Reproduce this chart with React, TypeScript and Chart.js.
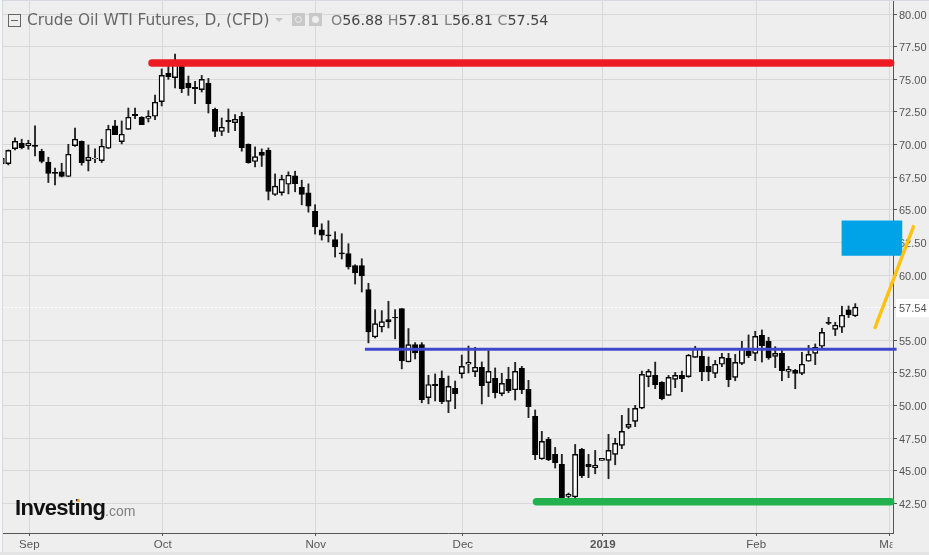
import React, { useEffect, useRef } from "react";
import { Chart, registerables } from "chart.js";

Chart.register(...registerables);

// Price candles, one per trading day, first entry is the bar clipped at the left edge
const opens = [68.52,68.54,69.69,70.10,69.92,69.95,69.49,68.65,67.88,67.91,67.55,69.92,70.25,68.77,68.90,68.77,69.72,71.43,70.23,71.17,72.32,72.09,72.01,72.17,73.29,75.46,75.13,76.04,74.69,74.39,74.21,74.69,72.70,71.00,71.86,71.68,72.17,70.02,68.70,69.41,69.56,66.17,66.32,66.96,67.60,66.73,66.30,64.88,63.47,63.09,62.71,61.71,61.64,60.72,60.72,58.88,55.26,56.02,56.58,56.76,57.43,53.34,54.67,54.67,50.61,51.62,52.08,50.32,51.32,52.44,53.16,52.60,52.93,51.75,52.08,50.91,52.01,51.21,52.85,51.24,49.17,45.92,47.41,46.26,45.49,43.04,43.00,46.64,45.49,45.23,45.80,45.80,46.26,46.95,48.33,48.79,49.80,52.21,52.31,51.77,50.78,52.00,52.31,52.21,53.69,53.77,53.00,52.47,53.16,53.62,52.16,53.23,54.20,54.00,55.38,54.92,53.77,54.00,52.62,52.70,52.46,53.39,54.00,54.54,56.38,55.84,56.00,57.33,56.88];
const highs = [69.08,69.59,70.51,70.41,70.33,71.43,69.64,69.03,68.19,68.57,70.02,71.27,70.28,69.97,69.67,70.41,71.48,71.86,71.81,72.80,72.80,72.14,72.60,73.80,75.79,76.07,76.94,76.17,75.25,74.85,75.30,75.07,72.80,72.04,72.73,72.29,72.47,70.05,69.82,69.67,69.74,67.75,67.65,67.91,67.96,67.27,66.99,65.39,63.93,64.16,63.32,63.17,62.40,60.79,61.25,59.37,57.35,57.27,57.99,57.35,57.43,55.90,54.82,54.82,52.32,52.42,52.65,52.26,51.88,53.87,54.56,54.46,53.34,54.21,52.88,52.47,52.93,53.31,53.00,51.93,49.66,48.02,47.56,46.79,46.26,43.29,47.02,46.72,46.26,46.56,45.95,47.79,47.48,49.25,49.78,50.01,52.64,52.77,53.33,51.83,52.31,52.54,52.64,53.92,54.54,54.38,53.72,53.46,54.00,54.00,53.92,54.92,55.41,55.69,55.79,55.23,54.51,54.38,53.00,52.77,54.08,54.61,54.72,55.92,56.76,56.38,57.61,57.63,57.81];
const lows = [68.44,68.44,69.59,69.67,69.64,69.13,68.60,67.09,66.91,67.52,67.55,69.85,68.42,67.98,68.62,68.62,69.69,70.76,70.05,71.17,71.99,71.53,71.73,71.91,72.96,75.00,74.34,73.98,73.77,73.14,74.03,72.42,70.61,70.69,70.92,71.07,69.49,68.57,68.29,68.32,65.76,66.10,66.12,66.22,66.38,65.38,64.82,63.14,62.68,62.53,61.38,61.23,60.46,59.31,58.70,54.80,55.18,55.64,55.95,55.11,52.81,53.34,53.57,50.21,50.13,50.35,50.14,49.45,49.76,52.11,52.49,52.21,50.12,50.68,50.58,50.75,50.98,50.42,50.91,49.07,45.85,45.87,45.77,45.21,42.60,42.93,42.90,44.47,44.47,44.77,45.80,44.39,45.46,46.69,48.22,48.38,49.75,51.44,51.29,50.44,50.78,51.37,51.06,52.16,53.69,51.90,51.90,52.13,52.98,51.44,51.90,53.13,53.67,53.44,53.33,53.54,52.90,51.90,52.13,51.29,52.36,53.39,53.13,54.38,56.20,55.36,55.59,56.74,56.81];
const closes = [68.95,69.56,70.25,69.77,70.10,69.85,68.70,67.78,67.78,67.55,69.26,70.41,68.62,69.03,68.95,69.87,71.17,70.76,70.79,72.09,72.22,71.53,72.17,73.24,75.30,75.20,76.48,74.28,74.34,74.28,75.00,73.14,71.00,71.33,71.76,71.94,69.77,68.62,69.08,69.16,66.40,66.81,67.35,67.65,67.01,66.17,65.28,63.68,63.06,62.99,62.15,61.61,60.62,60.16,59.93,55.64,56.28,56.43,56.41,56.71,53.42,54.67,54.03,50.44,51.61,51.52,50.29,51.47,50.91,53.00,53.31,52.93,51.52,52.62,50.98,51.70,51.14,52.62,51.21,49.91,46.23,47.25,45.85,45.62,42.90,43.19,46.26,44.62,45.31,45.41,45.95,46.56,47.10,48.02,48.56,49.78,52.39,52.62,51.60,50.52,52.16,52.31,52.06,53.85,54.38,52.59,52.59,53.16,53.69,51.98,53.31,54.36,53.82,55.30,54.59,53.67,54.00,52.67,52.77,52.46,53.16,53.92,54.46,55.61,56.30,56.15,56.92,56.97,57.54];

const axisTicks = [80,77.5,75,72.5,70,67.5,65,62.5,60,57.54,55,52.5,50,47.5,45,42.5];
const lastPrice = 57.54;
const monthTicks = [3.15, 23.15, 46.1, 68.15, 89.15, 112.15, 132.1];
const monthLabels = ["Sep", "Oct", "Nov", "Dec", "2019", "Feb", "Mar"];

// Hand-drawn marks on the chart: [bar position, price]
const redLine = [{ x: 21.54, y: 76.25 }, { x: 132.3, y: 76.25 }];
const blueLine = [{ x: 53.47, y: 54.31 }, { x: 133.2, y: 54.31 }];
const greenLine = [{ x: 79.2, y: 42.62 }, { x: 132.3, y: 42.62 }];
const orangeLine = [{ x: 129.9, y: 55.87 }, { x: 135.8, y: 63.8 }];
const blueBox = [{ x: 129.5, y: [61.5, 64.15] }];

const bars = opens.map((_, i) => i - 1);
const up = opens.map((o, i) => closes[i] >= o);

const GREY = "#555555";
const GRID = "#d8d8d8";
const BG = "#eeeeee";

const axisCorner = {
  id: "axisCorner",
  afterDraw(chart: any) {
    const { ctx } = chart;
    ctx.save();
    ctx.fillStyle = BG;
    ctx.fillRect(892.5, 535, 37, 18);
    ctx.restore();
  },
};

export default function App() {
  const ref = useRef<HTMLCanvasElement>(null);
  useEffect(() => {
    document.body.style.margin = "0";
    document.body.style.background = BG;
    const chart = new Chart(ref.current!, {
      type: "bar",
      plugins: [axisCorner],
      data: {
        datasets: [
          {
            type: "bar",
            label: "Wicks",
            data: bars.map((x, i) => ({ x, y: [lows[i], highs[i]] })) as any,
            backgroundColor: "#222222",
            borderWidth: 0,
            barThickness: 1.2,
            grouped: false,
            order: 5,
          },
          {
            type: "bar",
            label: "Bodies",
            data: bars.map((x, i) => ({ x, y: [Math.min(opens[i], closes[i]), Math.max(opens[i], closes[i])] })) as any,
            backgroundColor: up.map((u) => (u ? "#ffffff" : "#000000")),
            borderColor: "#000000",
            borderWidth: 1.4,
            borderSkipped: false,
            barThickness: 5.4,
            grouped: false,
            order: 4,
          },
          {
            type: "line",
            label: "Resistance",
            data: redLine as any,
            borderColor: "#ed1c24",
            borderWidth: 7.5,
            borderCapStyle: "round",
            pointRadius: 0,
            clip: false,
            order: 3,
          },
          {
            type: "line",
            label: "Neckline",
            data: blueLine as any,
            borderColor: "#3f48cc",
            borderWidth: 3,
            pointRadius: 0,
            clip: false,
            order: 3,
          },
          {
            type: "line",
            label: "Support",
            data: greenLine as any,
            borderColor: "#22b14c",
            borderWidth: 7.5,
            borderCapStyle: "round",
            pointRadius: 0,
            clip: false,
            order: 3,
          },
          {
            type: "bar",
            label: "Target",
            data: blueBox as any,
            backgroundColor: "#00a2e8",
            borderWidth: 0,
            barThickness: 60,
            grouped: false,
            clip: false,
            order: 2,
          },
          {
            type: "line",
            label: "Projection",
            data: orangeLine as any,
            borderColor: "#ffc20e",
            borderWidth: 3.4,
            pointRadius: 0,
            clip: false,
            order: 1,
          },
        ],
      },
      options: {
        animation: false,
        responsive: false,
        layout: { padding: { left: 3, top: 0, right: 0, bottom: 0 } },
        plugins: { legend: { display: false }, tooltip: { enabled: false } },
        scales: {
          x: {
            type: "linear",
            offset: false,
            min: -0.8,
            max: 132.66,
            afterBuildTicks: (s: any) => {
              s.ticks = monthTicks.map((value) => ({ value }));
            },
            afterFit: (s: any) => {
              s.height = 22;
              s.paddingLeft = 0;
              s.paddingRight = 0;
            },
            grid: {
              offset: false,
              color: GRID,
              tickColor: GREY,
              tickLength: 3,
            },
            border: { color: GREY, width: 1 },
            ticks: {
              autoSkip: false,
              maxRotation: 0,
              padding: 2,
              color: GREY,
              font: (c: any) => ({
                family: "'Liberation Sans', Arial, sans-serif",
                size: 11.5,
                weight: c.tick && c.tick.value === 89.15 ? "bold" : "normal",
              }),
              callback: (v: any) => monthLabels[monthTicks.indexOf(v)] ?? "",
            },
          },
          y: {
            type: "linear",
            position: "right",
            min: 40.23,
            max: 81.08,
            afterBuildTicks: (s: any) => {
              s.ticks = axisTicks.map((value) => ({ value }));
            },
            afterFit: (s: any) => {
              s.width = 36;
              s.paddingTop = 0;
              s.paddingBottom = 0;
            },
            grid: {
              color: (c: any) => (c.tick && c.tick.value === lastPrice ? "#ffffff" : GRID),
              tickColor: GREY,
              tickLength: 4,
            },
            border: {
              color: GREY,
              width: 1,
              dash: (c: any) => (c.tick && c.tick.value === lastPrice ? [2, 2] : []),
            },
            ticks: {
              autoSkip: false,
              padding: 2,
              labelOffset: 1.5,
              color: GREY,
              font: { family: "'Liberation Sans', Arial, sans-serif", size: 11 },
              showLabelBackdrop: (c: any) => !!(c.tick && c.tick.value === lastPrice),
              backdropColor: "#ffffff",
              backdropPadding: { top: 3, bottom: 2, left: 3, right: 4 },
              callback: (v: any) => Number(v).toFixed(2),
            },
          },
        },
      },
    } as any);
    return () => chart.destroy();
  }, []);

  const abs = (o: React.CSSProperties): React.CSSProperties => ({ position: "absolute", whiteSpace: "nowrap", ...o });
  const ui = "'DejaVu Sans', sans-serif";
  const lab = { color: "#808080" };
  return (
    <div style={{ position: "absolute", left: 0, top: 0, width: 929, height: 555, overflow: "hidden", background: BG }}>
      <canvas ref={ref} width={929} height={555} style={{ display: "block", position: "absolute", left: 0, top: 0 }} />
      <div style={abs({ left: 0, top: 0, width: 929, height: 1, background: "#d6dae0" })} />
      <div style={abs({ left: 0, top: 0, width: 2, height: 555, background: "#f6f6f6" })} />
      <div style={abs({ left: 2, top: 0, width: 1, height: 555, background: "#d6dae0" })} />
      <div style={abs({ left: 0, top: 552, width: 929, height: 3, background: "#e4e4e4" })} />
      <div style={abs({ left: 8, top: 14, width: 11, height: 11, border: "1px solid #666" })}>
        <div style={abs({ left: 2, top: 5, width: 7, height: 1, background: "#666" })} />
      </div>
      <div style={abs({ left: 27, top: 11, color: "#666666", font: `15.4px ${ui}` })}>Crude Oil WTI Futures, D, (CFD)</div>
      <div style={abs({ left: 275, top: 18, width: 0, height: 0, borderLeft: "4px solid transparent", borderRight: "4px solid transparent", borderTop: "4px solid #c4c4c4" })} />
      <div style={abs({ left: 292, top: 13, width: 13, height: 13, background: "#c8c8c8" })}>
        <div style={abs({ left: 3, top: 3, width: 5, height: 5, border: "1px solid #eee", borderRadius: "50%" })} />
      </div>
      <div style={abs({ left: 309, top: 13, width: 13, height: 13, background: "#c8c8c8" })}>
        <div style={abs({ left: 3, top: 3, width: 7, height: 7, background: "#eee", borderRadius: "50%" })} />
      </div>
      <div style={abs({ left: 331, top: 12, color: "#444444", font: `14.3px ${ui}` })}>
        <span style={lab}>O</span>56.88 <span style={lab}>H</span>57.81 <span style={lab}>L</span>56.81 <span style={lab}>C</span>57.54
      </div>
      <div style={abs({ left: 15, top: 495, color: "#111111", font: `bold 22px 'Liberation Sans', sans-serif`, letterSpacing: -0.7 })}>Investing</div>
      <div style={abs({ left: 77, top: 499, width: 3, height: 3, borderRadius: 2, background: "#f4a81c" })} />
      <div style={abs({ left: 105, top: 503, color: "#808080", font: `14px 'Liberation Sans', sans-serif` })}>.com</div>
    </div>
  );
}
